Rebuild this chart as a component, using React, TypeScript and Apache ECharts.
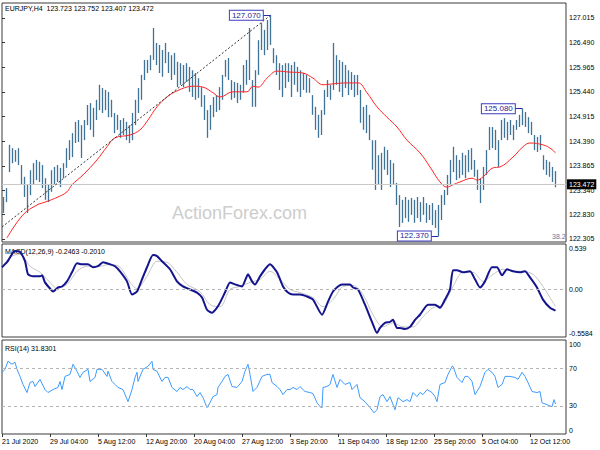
import React, { useEffect, useRef } from 'react';
import * as echarts from 'echarts';

const SYMBOL = 'EURJPY,H4';
const LAST_BAR_OHLC = [123.723, 123.752, 123.407, 123.472];
const LAST_PRICE = 123.472;
const MACD_PARAMS = '12,26,9';
const MACD_LAST = [-0.2463, -0.201];
const RSI_PERIOD = 14;
const RSI_LAST = 31.8301;

// one bar per slot (each slot ~ two H4 bars)
const BAR_HIGHS = [
  123.20, 123.39, 124.31, 124.24, 124.20, 124.24, 123.88, 123.63, 123.46, 123.77,
  123.92, 123.99, 123.95, 123.88, 123.60, 123.46, 123.77, 123.84, 123.88, 123.82,
  123.92, 124.24, 124.41, 124.56, 124.80, 124.84, 124.73, 124.84, 125.16, 125.20,
  125.10, 125.27, 125.59, 125.52, 125.48, 125.44, 125.27, 124.99, 124.95, 124.84,
  124.88, 124.80, 124.73, 124.99, 125.27, 125.52, 125.80, 126.12, 126.12, 126.22,
  126.80, 126.48, 126.44, 126.33, 126.48, 126.29, 126.22, 126.27, 126.08, 126.05,
  126.01, 126.05, 125.97, 125.90, 125.84, 125.73, 125.54, 125.37, 125.05, 125.16,
  125.33, 125.37, 125.54, 125.80, 126.12, 126.16, 125.69, 125.65, 125.63, 125.59,
  126.01, 126.12, 126.80, 125.69, 125.90, 126.54, 126.91, 126.76, 126.97, 127.07,
  126.37, 126.22, 126.05, 126.01, 126.05, 126.05, 126.01, 126.08, 125.97, 125.90,
  125.84, 125.80, 125.73, 125.37, 125.12, 124.95, 125.05, 125.48, 125.69, 125.59,
  126.48, 126.22, 126.12, 126.08, 126.01, 125.90, 125.86, 125.80, 125.80, 125.48,
  125.12, 125.16, 124.95, 124.41, 124.41, 124.09, 124.14, 124.27, 124.20, 123.99,
  123.92, 123.50, 123.24, 123.14, 123.20, 123.14, 123.18, 123.14, 123.20, 123.09,
  123.20, 123.07, 123.03, 123.07, 122.92, 123.03, 123.24, 123.35, 123.67, 123.99,
  124.27, 124.09, 123.99, 124.14, 124.09, 124.20, 124.24, 123.99, 123.78, 123.60,
  123.84, 124.20, 124.69, 124.69, 124.63, 124.41, 124.84, 124.88, 124.80, 124.84,
  124.73, 124.84, 124.95, 125.08, 125.01, 124.90, 124.80, 124.52, 124.48, 124.52,
  124.09, 123.99, 123.95, 123.84, 123.752,
];
const BAR_LOWS = [
  122.86, 123.09, 123.73, 123.92, 123.95, 123.88, 123.46, 123.20, 122.86, 123.24,
  123.46, 123.56, 123.52, 123.39, 123.14, 123.09, 123.31, 123.46, 123.52, 123.41,
  123.60, 123.82, 123.99, 124.05, 124.35, 124.37, 124.03, 124.41, 124.73, 124.63,
  124.48, 124.84, 125.05, 124.99, 125.05, 124.90, 124.90, 124.56, 124.63, 124.46,
  124.52, 124.41, 124.35, 124.41, 124.73, 124.99, 125.27, 125.69, 125.84, 125.90,
  126.12, 126.01, 125.84, 125.76, 126.05, 125.84, 125.69, 125.80, 125.54, 125.59,
  125.54, 125.65, 125.44, 125.33, 125.27, 125.31, 125.12, 124.84, 124.46, 124.63,
  124.90, 125.01, 125.05, 125.27, 125.76, 125.69, 125.27, 125.31, 125.20, 125.27,
  125.42, 125.59, 125.69, 125.12, 125.12, 125.80, 126.33, 126.22, 126.33, 126.44,
  126.05, 125.80, 125.48, 125.33, 125.52, 125.65, 125.33, 125.59, 125.44, 125.33,
  125.48, 125.42, 125.42, 124.95, 124.63, 124.46, 124.52, 124.95, 125.33, 125.27,
  125.48, 125.59, 125.44, 125.33, 125.52, 125.37, 125.48, 125.33, 125.37, 124.78,
  124.63, 124.56, 124.41, 123.78, 123.35, 123.46, 123.35, 123.78, 123.67, 123.41,
  123.46, 123.03, 122.56, 122.65, 122.75, 122.67, 122.82, 122.65, 122.75, 122.67,
  122.82, 122.65, 122.71, 122.60, 122.54, 122.37, 122.71, 123.03, 123.24, 123.46,
  123.73, 123.56, 123.60, 123.67, 123.60, 123.73, 123.78, 123.63, 123.35, 123.07,
  123.35, 123.67, 124.20, 124.24, 124.20, 123.84, 124.41, 124.46, 124.41, 124.52,
  124.41, 124.63, 124.69, 124.73, 124.69, 124.56, 124.52, 124.20, 124.16, 124.20,
  123.78, 123.67, 123.63, 123.52, 123.407,
];

// [bar position, value]
const MA_LINE = [
  [1.67, 122.33], [7, 122.82], [11.67, 123.03], [14.33, 123.09], [18.67, 123.2], [21.67, 123.31],
  [23.33, 123.46], [27, 123.67], [31.67, 123.99], [35, 124.27], [37.67, 124.46], [42.67, 124.52],
  [46, 124.63], [48.67, 124.84], [51.67, 125.12], [55, 125.33], [58.33, 125.46], [63.67, 125.56],
  [67, 125.54], [70.33, 125.42], [72.67, 125.33], [77, 125.44], [81.67, 125.44], [83.67, 125.56],
  [85.33, 125.54], [88.33, 125.73], [91.67, 125.88], [96, 125.86], [100.33, 125.84], [103.67, 125.73],
  [107, 125.59], [110.33, 125.61], [115, 125.63], [118.67, 125.63], [121.67, 125.42], [125, 125.12],
  [128.33, 124.9], [131.67, 124.69], [135, 124.41], [139.33, 124.14], [142.67, 123.84], [146, 123.52],
  [148.33, 123.41], [150.33, 123.46], [152.67, 123.52], [156.67, 123.6], [158.33, 123.56], [160.33, 123.63],
  [163.67, 123.82], [166, 123.84], [170.33, 124.05], [173.67, 124.27], [176, 124.35], [180.33, 124.31],
  [182.67, 124.24], [184.5, 124.14],
];

const MACD_MAIN = [
  [0, 0.265], [1.67, 0.324], [4.33, 0.456], [6, 0.444], [7.67, 0.336], [8.67, 0.181], [10.33, 0.157],
  [12.67, 0.157], [13.33, 0.169], [14.33, 0.086], [16, 0.014], [17, -0.022], [18.67, 0.026], [20, 0.038],
  [21.67, 0.098], [23.33, 0.205], [25, 0.312], [26.67, 0.3], [28.67, 0.3], [30.33, 0.265], [32, 0.277],
  [33.67, 0.324], [36, 0.3], [37.67, 0.277], [39.33, 0.217], [41.67, 0.098], [43.33, -0.057], [45, -0.022],
  [46.67, 0.122], [48.33, 0.265], [50.33, 0.408], [51.67, 0.396], [53.33, 0.336], [56, 0.241], [58.33, 0.098],
  [60.33, 0.038], [62.67, 0.002], [65, -0.034], [66.67, -0.093], [68.33, -0.236], [70, -0.272], [71.67, -0.213],
  [72.67, -0.153], [74.33, -0.034], [76, 0.086], [77.67, 0.062], [80, 0.038], [82, 0.181], [83.33, 0.098],
  [84.33, 0.062], [86, 0.157], [87.67, 0.241], [89.33, 0.3], [91.67, 0.205], [93.67, 0.038], [95.33, -0.034],
  [97, -0.057], [99.33, -0.057], [101.67, -0.081], [103.67, -0.117], [106.67, -0.296], [108.67, -0.141],
  [110.33, -0.022], [112, 0.038], [113.33, 0.062], [116, 0.062], [117, 0.026], [118.67, 0.002], [121, -0.177],
  [123.33, -0.38], [125, -0.511], [126, -0.451], [127.67, -0.391], [129.33, -0.38], [130.33, -0.356],
  [131.67, -0.451], [132.67, -0.451], [134.33, -0.463], [136, -0.439], [137.67, -0.356], [139.33, -0.296],
  [142, -0.177], [144.33, -0.177], [146, -0.213], [147.67, -0.117], [149.33, 0.002], [150.33, 0.229],
  [151.67, 0.229], [153.67, 0.205], [156, 0.217], [157.67, 0.122], [159.33, 0.026], [161, 0.098], [163.33, 0.265],
  [165, 0.265], [166.67, 0.169], [168.33, 0.241], [170.33, 0.217], [172.67, 0.205], [174.33, 0.217], [176, 0.145],
  [178.33, 0.026], [180.33, -0.117], [182.67, -0.213], [184.5, -0.2463],
];

const MACD_SIGNAL = [
  [0, 0.265], [2.67, 0.384], [6, 0.42], [9.33, 0.277], [12.67, 0.205], [16, 0.086], [18.33, 0.014],
  [21.67, 0.062], [25, 0.217], [28.33, 0.277], [32.67, 0.277], [36, 0.3], [39.33, 0.265], [42.67, 0.086],
  [45, 0.014], [48.33, 0.157], [51.67, 0.336], [55, 0.324], [58.33, 0.205], [61.67, 0.062], [66, -0.022],
  [69.33, -0.177], [72.67, -0.201], [76, 0.002], [79.33, 0.038], [82.67, 0.086], [86, 0.122], [89.33, 0.217],
  [92.67, 0.122], [96, 0.002], [99.33, -0.034], [103.67, -0.093], [107, -0.201], [110.33, -0.117],
  [113.67, 0.038], [117, 0.05], [120.33, -0.057], [123.67, -0.296], [127, -0.439], [130.33, -0.391],
  [133.67, -0.439], [137, -0.439], [140.33, -0.32], [143.67, -0.213], [147, -0.177], [150.33, 0.038],
  [153.67, 0.205], [157, 0.205], [160.33, 0.098], [163.67, 0.181], [167, 0.241], [170.33, 0.217],
  [173.67, 0.217], [177, 0.181], [180.33, 0.038], [183.67, -0.153], [184.5, -0.201],
];

const RSI_LINE = [
  [0, 65.6], [1, 68.8], [2, 77.4], [3.33, 74.2], [4.33, 76.3], [5, 68.8], [6, 61.3], [7, 52.7], [8.33, 44.1],
  [9.33, 54.8], [10.33, 55.9], [11, 50.5], [12.67, 58.1], [14.33, 47.3], [15.33, 44.1], [17, 47.3], [18.67, 49.5],
  [19.33, 55.9], [20, 47.3], [21, 61.3], [22.67, 63.4], [23.67, 74.2], [25, 66.7], [26, 60.2], [27, 65.6],
  [28.67, 68.8], [29.33, 55.9], [31, 60.2], [31.67, 68.8], [33.33, 68.8], [35, 61.3], [35.33, 66.7], [36.67, 55.9],
  [37.67, 52.7], [38.67, 49.5], [40.33, 47.3], [42, 34.4], [43.33, 47.3], [44.33, 60.2], [45, 65.6], [45.33, 55.9],
  [47, 68.8], [48.67, 72.0], [50, 77.4], [50.33, 68.8], [51.67, 66.7], [53.33, 55.9], [54.33, 60.2], [55.33, 60.2],
  [56.67, 49.5], [58.33, 45.2], [59.33, 49.5], [60.33, 47.3], [61.67, 50.5], [62.67, 47.3], [63.67, 47.3], [65, 39.8],
  [66, 44.1], [67, 38.7], [68.33, 28.0], [69.33, 33.3], [70.33, 39.8], [71.67, 41.9], [72, 49.5], [73.33, 55.9],
  [74.33, 61.3], [75.33, 63.4], [76.67, 50.5], [78.33, 49.5], [80, 55.9], [81, 66.7], [82, 74.2], [82.67, 63.4],
  [83.67, 45.2], [85, 49.5], [86.67, 61.3], [88.33, 63.4], [89.33, 63.4], [90, 54.8], [91.67, 50.5], [92.67, 47.3],
  [93.67, 41.9], [95, 47.3], [96, 47.3], [97, 49.5], [98.33, 47.3], [99.33, 50.5], [101, 45.2], [102.67, 44.1],
  [103.67, 43.0], [105, 33.3], [106, 29.0], [106.67, 28.0], [107, 49.5], [108.33, 50.5], [109.33, 52.7],
  [110.33, 63.4], [111.67, 49.5], [112.67, 58.1], [114.33, 52.7], [116, 54.8], [116.67, 47.3], [118.33, 52.7],
  [119.33, 38.7], [121, 34.4], [122.67, 28.0], [124, 22.6], [125, 25.8], [126, 39.8], [127, 41.9], [128.33, 34.4],
  [129.33, 39.8], [131, 25.8], [132, 38.7], [133.67, 34.4], [135, 36.6], [136, 34.4], [137, 44.1], [138.33, 39.8],
  [139.33, 44.1], [140.33, 41.9], [141.67, 47.3], [143.33, 44.1], [144.33, 39.8], [145, 34.4], [146, 52.7],
  [147.67, 54.8], [148.67, 63.4], [150, 72.0], [150.33, 72.0], [151.67, 60.2], [153.33, 54.8], [154.33, 61.3],
  [155.33, 61.3], [156.67, 55.9], [157.67, 41.9], [159.33, 50.5], [161, 65.6], [162, 68.8], [163.33, 65.6],
  [164.33, 61.3], [165.33, 49.5], [166.67, 52.7], [167.67, 61.3], [169.33, 61.3], [171, 60.2], [172, 58.1],
  [173.33, 65.6], [174.33, 61.3], [175.33, 54.8], [176.67, 45.2], [178.33, 44.1], [179.33, 45.2], [180, 33.3],
  [181.67, 31.2], [183.33, 29.0], [184, 36.6], [184.5, 31.83],
];

const DATE_LABELS = [
  '21 Jul 2020', '29 Jul 04:00', '5 Aug 12:00', '12 Aug 20:00', '20 Aug 04:00', '27 Aug 12:00',
  '3 Sep 20:00', '11 Sep 04:00', '18 Sep 12:00', '25 Sep 20:00', '5 Oct 04:00', '12 Oct 12:00',
];
const DATE_TICKS = [0, 16, 32, 48, 64, 80, 96, 112, 128, 144, 160, 176];
const PRICE_TICKS = [122.305, 122.83, 123.34, 123.865, 124.39, 124.915, 125.44, 125.965, 126.49, 127.015];
const MACD_TICKS = [-0.5584, 0, 0.539];
const RSI_TICKS = [0, 30, 70, 100];
const RSI_LEVELS = [30, 70];
const TREND_FROM = [0, 122.561];
const TREND_TO = [89.5, 127.07];
const EXTREMES = [
  { bar: 89, price: 127.07 },
  { bar: 173, price: 125.08 },
  { bar: 145, price: 122.37 },
];
const WATERMARK = 'ActionForex.com';
const FIB_TEXT = '38.2';

const FONT = 'Liberation Sans';
const SLOTS = 188;

export default function App() {
  const ref = useRef<HTMLDivElement>(null);
  useEffect(() => {
    if (!ref.current) return;
    const chart = echarts.init(ref.current, undefined, { renderer: 'svg' });

    const hiddenX = (i: number) => ({
      gridIndex: i, type: 'value', min: 0, max: SLOTS,
      axisLine: { show: false }, axisTick: { show: false }, axisLabel: { show: false }, splitLine: { show: false },
    });
    const gridBase = {
      left: 2, width: 564, show: true, borderColor: '#3a3a3a', borderWidth: 1,
      backgroundColor: '#ffffff', containLabel: false, outerBoundsMode: 'none',
    };
    const edgeRich = {
      t: { padding: [8, 0, 0, 0], fontSize: 7, color: '#000', fontFamily: FONT },
      b: { padding: [0, 0, 8, 0], fontSize: 7, color: '#000', fontFamily: FONT },
      m: { fontSize: 7, color: '#000', fontFamily: FONT },
    };

    const option: any = {
      animation: false,
      backgroundColor: '#ffffff',
      textStyle: { fontFamily: FONT },
      grid: [
        { ...gridBase, top: 3, height: 239 },
        { ...gridBase, top: 244, height: 93 },
        { ...gridBase, top: 340, height: 94 },
      ],
      xAxis: [
        hiddenX(0),
        hiddenX(1),
        {
          ...hiddenX(2),
          axisTick: { show: true, length: 3, lineStyle: { color: '#333' }, customValues: DATE_TICKS },
          axisLabel: {
            show: true, customValues: DATE_TICKS, align: 'left', margin: 4, fontSize: 7, color: '#000',
            fontFamily: FONT,
            formatter: (v: number) => DATE_LABELS[DATE_TICKS.indexOf(Math.round(v))] ?? '',
          },
        },
      ],
      yAxis: [
        {
          gridIndex: 0, type: 'value', position: 'right', min: 122.241, max: 127.332, scale: true,
          splitLine: { show: false }, axisLine: { show: false },
          axisTick: { show: true, length: 3, customValues: PRICE_TICKS, lineStyle: { color: '#333' } },
          axisLabel: {
            customValues: PRICE_TICKS, formatter: (v: number) => v.toFixed(3),
            fontSize: 7, color: '#000', margin: 3, fontFamily: FONT,
          },
        },
        {
          gridIndex: 1, type: 'value', position: 'right', min: -0.5584, max: 0.539, scale: true,
          splitLine: { show: false }, axisLine: { show: false },
          axisTick: { show: true, length: 3, customValues: [0], lineStyle: { color: '#333' } },
          axisLabel: {
            customValues: MACD_TICKS, margin: 3, rich: edgeRich,
            formatter: (v: number) =>
              Math.abs(v) < 1e-9 ? '{m|0.00}' : v > 0 ? `{t|${v.toFixed(3)}}` : `{b|${v.toFixed(4)}}`,
          },
        },
        {
          gridIndex: 2, type: 'value', position: 'right', min: 0, max: 100,
          splitLine: { show: false }, axisLine: { show: false },
          axisTick: { show: true, length: 3, customValues: RSI_LEVELS, lineStyle: { color: '#333' } },
          axisLabel: {
            customValues: RSI_TICKS, margin: 3, rich: edgeRich,
            formatter: (v: number) => (v >= 100 ? `{t|${v}}` : v <= 0 ? `{b|${v}}` : `{m|${v}}`),
          },
        },
      ],
      graphic: [
        {
          type: 'text', x: 172, y: 213, z: 0,
          style: { text: WATERMARK, fill: '#cdcdcd', fontSize: 18, fontFamily: FONT, verticalAlign: 'middle' },
        },
        {
          type: 'text', x: 5, y: 8, z: 1,
          style: {
            text: `${SYMBOL}  ${LAST_BAR_OHLC.map((v) => v.toFixed(3)).join(' ')}`,
            fill: '#000', fontSize: 7, fontFamily: FONT, verticalAlign: 'middle',
          },
        },
        {
          type: 'text', x: 5, y: 251, z: 1,
          style: {
            text: `MACD(${MACD_PARAMS}) ${MACD_LAST.map((v) => v.toFixed(4)).join(' ')}`,
            fill: '#000', fontSize: 7, fontFamily: FONT, verticalAlign: 'middle',
          },
        },
        {
          type: 'text', x: 5, y: 348, z: 1,
          style: {
            text: `RSI(${RSI_PERIOD}) ${RSI_LAST.toFixed(4)}`,
            fill: '#000', fontSize: 7, fontFamily: FONT, verticalAlign: 'middle',
          },
        },
        {
          type: 'text', x: 552, y: 236, z: 1,
          style: { text: FIB_TEXT, fill: '#5a78a8', fontSize: 7, fontFamily: FONT, verticalAlign: 'middle' },
        },
      ],
      series: [
        {
          type: 'custom', name: 'bars', xAxisIndex: 0, yAxisIndex: 0, z: 3,
          data: BAR_HIGHS.map((h, i) => [i + 0.5, BAR_LOWS[i], h]),
          renderItem: (params: any, api: any) => {
            const x = api.value(0);
            const lo = api.coord([x, api.value(1)]);
            const hi = api.coord([x, api.value(2)]);
            return {
              type: 'line',
              shape: { x1: lo[0], y1: lo[1], x2: hi[0], y2: hi[1] },
              style: { stroke: '#3f7397', lineWidth: 1.3 },
            };
          },
        },
        {
          type: 'line', name: 'MA', xAxisIndex: 0, yAxisIndex: 0, z: 4,
          data: MA_LINE, showSymbol: false, smooth: 0.4,
          lineStyle: { color: '#ff2424', width: 1 },
          markLine: {
            silent: true, symbol: ['none', 'none'], animation: false,
            label: { show: false },
            data: [
              {
                yAxis: LAST_PRICE,
                lineStyle: { color: '#c9c9c9', width: 1, type: 'solid' },
                label: {
                  show: true, position: 'end', distance: 1, formatter: LAST_PRICE.toFixed(3),
                  color: '#fff', backgroundColor: '#000', padding: [2, 2, 1, 2], fontSize: 7, fontFamily: FONT,
                },
              },
              [
                { coord: TREND_FROM, lineStyle: { color: '#333', width: 1, type: [2, 2] } },
                { coord: TREND_TO },
              ],
              ...EXTREMES.map((e) => [
                { coord: [e.bar + 0.5 - 2.4, e.price], lineStyle: { color: '#2a2aa8', width: 1, type: 'solid' } },
                { coord: [e.bar + 0.5, e.price] },
              ]),
            ],
          },
          markPoint: {
            silent: true, symbol: 'rect', symbolSize: 1, itemStyle: { color: 'rgba(0,0,0,0)' },
            label: {
              show: true, position: 'left', distance: 0,
              formatter: (p: any) => Number(p.value).toFixed(3),
              color: '#1e1e96', backgroundColor: '#ffffff', borderColor: '#3c3cc0', borderWidth: 1,
              padding: [1, 2, 0, 2], fontSize: 8, fontFamily: FONT,
            },
            data: EXTREMES.map((e) => ({ coord: [e.bar + 0.5 - 2.4, e.price], value: e.price })),
          },
        },
        {
          type: 'line', name: 'Signal', xAxisIndex: 1, yAxisIndex: 1, z: 3,
          data: MACD_SIGNAL, showSymbol: false, smooth: 0.3,
          lineStyle: { color: '#c4c4c4', width: 1 },
          markLine: {
            silent: true, symbol: ['none', 'none'], label: { show: false },
            lineStyle: { color: '#b4b4b4', type: [3, 3], width: 1 },
            data: [{ yAxis: 0 }],
          },
        },
        {
          type: 'line', name: 'MACD', xAxisIndex: 1, yAxisIndex: 1, z: 4,
          data: MACD_MAIN, showSymbol: false, smooth: 0.2,
          lineStyle: { color: '#14148e', width: 2 },
        },
        {
          type: 'line', name: 'RSI', xAxisIndex: 2, yAxisIndex: 2, z: 4,
          data: RSI_LINE, showSymbol: false,
          lineStyle: { color: '#3d9bff', width: 1 },
          markLine: {
            silent: true, symbol: ['none', 'none'], label: { show: false },
            lineStyle: { color: '#b4b4b4', type: [3, 3], width: 1 },
            data: RSI_LEVELS.map((v) => ({ yAxis: v })),
          },
        },
      ],
    };
    chart.setOption(option);
    return () => chart.dispose();
  }, []);

  return (
    <div
      ref={ref}
      style={{ position: 'fixed', left: 0, top: 0, width: 600, height: 450, background: '#fff' }}
    />
  );
}
